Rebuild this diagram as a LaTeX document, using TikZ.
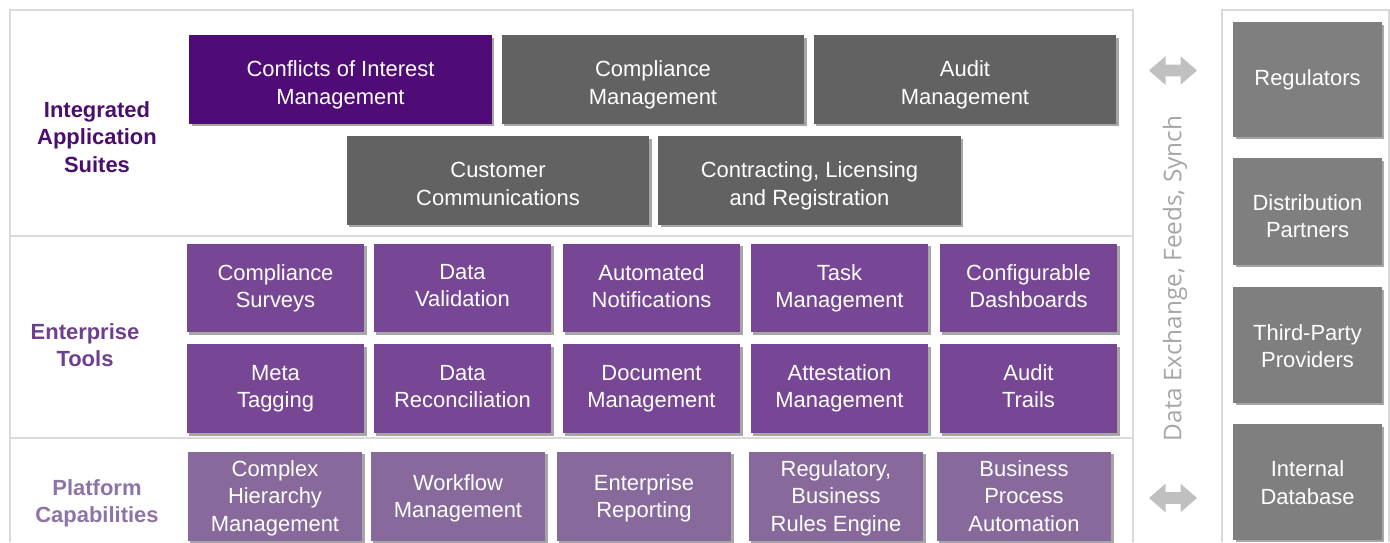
\documentclass[tikz,border=0pt]{standalone}
\usepackage{fontspec}
\setmainfont{Liberation Sans}
\newfontfamily\feedfont{Open Sans}
\usetikzlibrary{shadows,shapes.arrows}
\definecolor{coipurple}{HTML}{4F0B76}
\definecolor{suitegray}{HTML}{626262}
\definecolor{toolpurple}{HTML}{774694}
\definecolor{platpurple}{HTML}{87699B}
\definecolor{partygray}{HTML}{7F7F7F}
\definecolor{framegray}{HTML}{DADADA}
\definecolor{feedgray}{HTML}{A6A6A6}
\definecolor{arrowgray}{HTML}{C0C0C0}
\definecolor{suitelabel}{HTML}{4B0E6E}
\definecolor{toollabel}{HTML}{6E3F8F}
\definecolor{platlabel}{HTML}{8E74A6}

\tikzset{
  every box/.style={text=white, align=center, inner sep=0pt,
    drop shadow={shadow xshift=0.05cm, shadow yshift=-0.05cm, opacity=0.35, fill=black}},
  suite/.style={every box, fill=suitegray, minimum width=6.06cm, minimum height=1.78cm,
    text height=27.9pt, text depth=0pt},
  tool/.style={every box, fill=toolpurple, minimum width=3.56cm, minimum height=1.78cm, text depth=2.5pt},
  platform/.style={every box, fill=platpurple, minimum width=3.5cm, minimum height=1.78cm, text depth=0.2pt},
  party/.style={every box, fill=partygray, minimum width=2.98cm, text depth=0pt},
  layer label/.style={font=\fontsize{12.5}{15.5}\selectfont\bfseries, align=center},
  exchange/.style={double arrow, fill=arrowgray, minimum height=0.96cm,
    inner xsep=0pt, inner ysep=0.11cm, text height=0pt, text depth=0pt,
    double arrow head extend=0.17cm, double arrow tip angle=82}
}

\begin{document}
\begin{tikzpicture}[x=0.02cm, y=-0.02cm, font=\fontsize{12.5}{15.5}\selectfont]
\useasboundingbox (0,0) rectangle (1390,542);

% frames
\draw [framegray, line width=1.1pt] (10,542) -- (10,10) -- (1133,10) -- (1133,542);
\draw [framegray, line width=1.1pt] (10,236) -- (1133,236);
\draw [framegray, line width=1.1pt] (10,438) -- (1133,438);
\draw [framegray, line width=1.1pt] (1222,542) -- (1222,10) -- (1389,10) -- (1389,542);

% layer labels
\node [layer label, text=suitelabel] (suites-label) at (97,137) {Integrated\\Application\\Suites};
\node [layer label, text=toollabel] (tools-label) at (85,345) {Enterprise\\Tools};
\node [layer label, text=platlabel] (platform-label) at (97,503) {Platform\\Capabilities};

% integrated application suites
\node [suite, fill=coipurple] (suite-1) at (340.5,79.5) {Conflicts of Interest\\Management};
\foreach \l/\x/\y [count=\i from 2] in {Compliance\\Management/653/79.5, Audit\\Management/965/79.5,
    Customer\\Communications/498/180.5, {Contracting, Licensing\\and Registration}/809.5/180.5}
  \node [suite] (suite-\i) at (\x,\y) {\l};

% enterprise tools
\foreach \l/\x [count=\i] in {Compliance\\Surveys/275.5, Data\\Validation/462.5,
    Automated\\Notifications/651.5, Task\\Management/839.5, Configurable\\Dashboards/1028.5}
  \node [tool] (tool-\i) at (\x,288) {\l};

\foreach \l/\x [count=\i from 6] in {Meta\\Tagging/275.5, Data\\Reconciliation/462.5,
    Document\\Management/651.5, Attestation\\Management/839.5, Audit\\Trails/1028.5}
  \node [tool] (tool-\i) at (\x,388.5) {\l};

% platform capabilities
\foreach \l/\x [count=\i] in {Complex\\Hierarchy\\Management/275, Workflow\\Management/458,
    Enterprise\\Reporting/644, {Regulatory,\\Business\\Rules Engine}/836, Business\\Process\\Automation/1024}
  \node [platform] (platform-\i) at (\x,496) {\l};

% external parties
\foreach \l/\y/\h/\t [count=\i] in {Regulators/79.5/2.3/7.3, Distribution\\Partners/211.5/2.14/29.6,
    Third-Party\\Providers/345/2.32/25.6, Internal\\Database/482/2.32/25.1}
  \node [party, minimum height=\h cm, text height=\t pt] (party-\i) at (1307.5,\y) {\l};

% data exchange
\node [exchange] (exchange-top) at (1173,70.5) {};
\node [exchange] (exchange-bottom) at (1173,498) {};
\node [rotate=90, text=feedgray, font=\feedfont\fontsize{13.85}{16}\selectfont] (feeds) at (1175,278.5)
  {Data Exchange, Feeds, Synch};
\end{tikzpicture}
\end{document}
